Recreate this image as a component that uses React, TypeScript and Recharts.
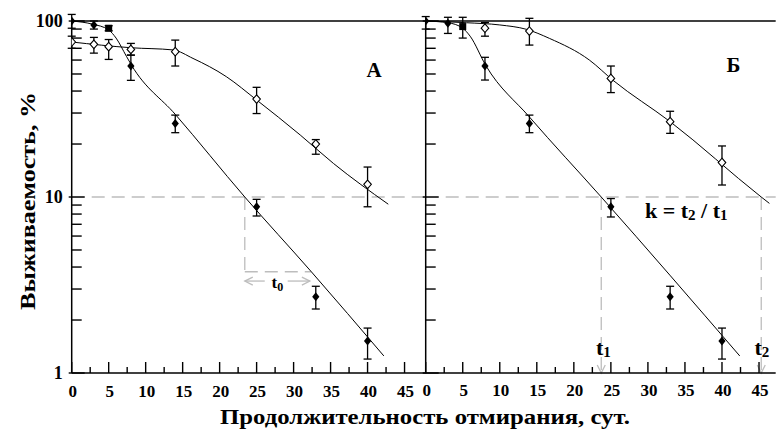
import React from 'react';
import { ComposedChart, Scatter, Line, XAxis, YAxis, ErrorBar, ReferenceLine } from 'recharts';

// ---------- data ----------
const xTicks = [0, 2.5, 5, 7.5, 10, 12.5, 15, 17.5, 20, 22.5, 25, 27.5, 30, 32.5, 35, 37.5, 40, 42.5, 45];
const xLabelTicks = [0, 5, 10, 15, 20, 25, 30, 35, 40, 45];
const yTicks = [1, 2, 3, 4, 5, 6, 7, 8, 9, 10, 20, 30, 40, 50, 60, 70, 80, 90, 100];
const yLabelTicks = [1, 10, 100];

const filledA = [
  { x: 0, y: 100, err: [9, 9] },
  { x: 3, y: 95, err: [5, 5] },
  { x: 5, y: 91, err: [3, 3] },
  { x: 8, y: 55.5, err: [9.5, 8.5] },
  { x: 14, y: 26.2, err: [3, 3] },
  { x: 25, y: 8.8, err: [1, 0.9] },
  { x: 33, y: 2.71, err: [0.4, 0.4] },
  { x: 40, y: 1.52, err: [0.32, 0.28] },
];
const openA = [
  { x: 0, y: 76, err: [6, 6] },
  { x: 3, y: 73.7, err: [8, 7] },
  { x: 5, y: 71.5, err: [11, 7] },
  { x: 8, y: 69, err: [5, 5.6] },
  { x: 14, y: 66.9, err: [11.4, 11] },
  { x: 25, y: 36, err: [6.2, 6] },
  { x: 33, y: 20, err: [2.5, 1.2] },
  { x: 40, y: 11.8, err: [3, 3] },
];
const filledB = [
  { x: 0, y: 100, err: [10, 6] },
  { x: 3, y: 97, err: [12, 8] },
  { x: 5, y: 93, err: [13, 12] },
  { x: 8, y: 55.5, err: [9.3, 6.7] },
  { x: 14, y: 26.2, err: [3, 3] },
  { x: 25, y: 8.8, err: [1.1, 1] },
  { x: 33, y: 2.71, err: [0.4, 0.4] },
  { x: 40, y: 1.52, err: [0.32, 0.28] },
];
const openB = [
  { x: 8, y: 91, err: [9, 7] },
  { x: 14, y: 87.7, err: [14.7, 15.9] },
  { x: 25, y: 47.2, err: [8, 8.3] },
  { x: 33, y: 26.8, err: [3.8, 3.9] },
  { x: 40, y: 15.7, err: [4, 3.8] },
];

const curveFilledA = [
  { x: 0, y: 100 }, { x: 2.8, y: 96 }, { x: 5, y: 89 }, { x: 6, y: 80 }, { x: 7.4, y: 63 },
  { x: 8.1, y: 56 }, { x: 14, y: 29.5 }, { x: 23.4, y: 10 }, { x: 32.4, y: 3.76 }, { x: 42.2, y: 1.25 },
];
const curveOpenA = [
  { x: 0, y: 76 }, { x: 8, y: 70.5 }, { x: 13.7, y: 68.5 }, { x: 16.4, y: 61.3 }, { x: 20.9, y: 48.3 },
  { x: 25, y: 35.6 }, { x: 30.9, y: 22.5 }, { x: 35.4, y: 15.5 }, { x: 42.8, y: 9.1 },
];
const curveFilledB = [
  { x: 0, y: 100 }, { x: 3, y: 97.8 }, { x: 5, y: 91 }, { x: 6, y: 82 }, { x: 8.1, y: 56 },
  { x: 14, y: 28.5 }, { x: 23.7, y: 10 }, { x: 42.4, y: 1.25 },
];
const curveOpenB = [
  { x: 0, y: 100 }, { x: 5.5, y: 97.8 }, { x: 10, y: 95 }, { x: 13.6, y: 89.7 }, { x: 16.7, y: 79.7 },
  { x: 22.1, y: 60 }, { x: 25.3, y: 46 }, { x: 33, y: 26.8 }, { x: 45.3, y: 10 }, { x: 46.4, y: 9.2 },
];

// annotation values (data coordinates)
const guideLevel = 10;
const guideA = { x: 23.4, yLow: 3.76, xEnd: 32.4 };
const arrowA = { y: 3.33, left: [23.4, 26.1], right: [29.2, 32.2] };
const guideB = [23.7, 45.3];

// ---------- styles ----------
const FONT = '"Liberation Serif", "Times New Roman", serif';
const GRAY = '#bdbdbd';
const PLOT_TOP = 10;
const Y_DOMAIN: [number, number] = [1, 115.5];

const XTick = (props: any) => {
  const { x, y, payload } = props;
  const v = payload.value;
  const major = v % 5 === 0;
  return (
    <g>
      <line x1={x} x2={x} y1={y} y2={y - (major ? 11 : 6)} stroke="#000" strokeWidth={1.4} />
      {xLabelTicks.includes(v) && (
        <text x={x + 1} y={y + 23.5} textAnchor="middle" fontFamily={FONT} fontWeight="bold" fontSize={17} fill="#000">
          {v}
        </text>
      )}
    </g>
  );
};

const makeYTick = (showLabels: boolean) => (props: any) => {
  const { x, y, payload } = props;
  const v = payload.value;
  const major = yLabelTicks.includes(v);
  return (
    <g>
      <line x1={major ? x - 3 : x} x2={x + (major ? 13 : 10)} y1={y} y2={y} stroke="#000" strokeWidth={1.4} />
      {showLabels && major && (
        <text x={x - 9} y={y} dy="0.35em" textAnchor="end" fontFamily={FONT} fontWeight="bold" fontSize={18} fill="#000">
          {v}
        </text>
      )}
    </g>
  );
};
const YTickA = makeYTick(true);
const YTickB = makeYTick(false);

const SQUARE_AT = 5;
const FilledMark = (props: any) => {
  const { cx, cy, payload } = props;
  if (cx == null || cy == null) return null;
  if (payload && payload.x === SQUARE_AT) {
    return <rect x={cx - 3.5} y={cy - 3.5} width={7} height={7} fill="#000" />;
  }
  return <polygon points={`${cx},${cy - 4.5} ${cx + 3.6},${cy} ${cx},${cy + 4.5} ${cx - 3.6},${cy}`} fill="#000" />;
};
const OpenMark = (props: any) => {
  const { cx, cy } = props;
  if (cx == null || cy == null) return null;
  return (
    <polygon
      points={`${cx},${cy - 4.3} ${cx + 3.8},${cy} ${cx},${cy + 4.3} ${cx - 3.8},${cy}`}
      fill="#fff"
      stroke="#000"
      strokeWidth={1.1}
    />
  );
};

const chevron = (x: number, y: number, dx: number, dy: number, key: string) => {
  const len = 8;
  const w = 4;
  const px = -dy, py = dx;
  const bx = x - dx * len, by = y - dy * len;
  return (
    <path
      key={key}
      d={`M${bx + px * w},${by + py * w} L${x},${y} L${bx - px * w},${by - py * w}`}
      fill="none"
      stroke={GRAY}
      strokeWidth={1.3}
    />
  );
};

const arrowShape = (startHead: boolean, endHead: boolean, dashed: boolean) => (p: any) => {
  const { x1, y1, x2, y2 } = p;
  const L = Math.hypot(x2 - x1, y2 - y1) || 1;
  const dx = (x2 - x1) / L, dy = (y2 - y1) / L;
  return (
    <g>
      <line x1={x1} y1={y1} x2={x2} y2={y2} stroke={GRAY} strokeWidth={1.3} strokeDasharray={dashed ? '13 7' : undefined} />
      {startHead && chevron(x1, y1, -dx, -dy, 's')}
      {endHead && chevron(x2, y2, dx, dy, 'e')}
    </g>
  );
};

const ErrBar = () => (
  <ErrorBar dataKey="err" direction="y" width={4} stroke="#000" strokeWidth={1.3} isAnimationActive={false} />
);

const commonLine = {
  dataKey: 'y',
  type: 'monotone' as const,
  dot: false,
  activeDot: false,
  stroke: '#000',
  strokeWidth: 1,
  isAnimationActive: false,
};

const PanelAxes = (domainMax: number, yTick: any) => [
  <XAxis
    key="xa"
    type="number"
    dataKey="x"
    domain={[0, domainMax]}
    ticks={xTicks}
    interval={0}
    tickSize={0}
    tickMargin={0}
    tick={XTick}
    tickLine={false}
    axisLine={{ stroke: '#000', strokeWidth: 1.5 }}
    height={30}
    allowDataOverflow
  />,
  <YAxis
    key="ya"
    type="number"
    dataKey="y"
    scale="log"
    domain={Y_DOMAIN}
    ticks={yTicks}
    interval={0}
    tickSize={0}
    tickMargin={0}
    tick={yTick}
    tickLine={false}
    axisLine={false}
    width={71.7}
    allowDataOverflow
  />,
];

export default function App() {
  return (
    <div style={{ position: 'absolute', left: 0, top: 0, width: 776, height: 431, background: '#fff', overflow: 'hidden' }}>
      {/* Panel A */}
      <div style={{ position: 'absolute', left: 0, top: 0 }}>
        <ComposedChart width={430} height={431} margin={{ top: PLOT_TOP, right: 4, bottom: 28, left: 0 }}>
          {PanelAxes(47.9, YTickA)}
          <ReferenceLine y={guideLevel} stroke={GRAY} strokeWidth={1.3} strokeDasharray="13 7" ifOverflow="visible" />
          <ReferenceLine
            segment={[{ x: guideA.x, y: guideLevel }, { x: guideA.x, y: guideA.yLow }]}
            stroke={GRAY}
            strokeWidth={1.3}
            strokeDasharray="13 7"
            ifOverflow="visible"
          />
          <ReferenceLine
            segment={[{ x: guideA.x, y: guideA.yLow }, { x: guideA.xEnd, y: guideA.yLow }]}
            stroke={GRAY}
            strokeWidth={1.3}
            strokeDasharray="13 7"
            ifOverflow="visible"
          />
          <ReferenceLine
            segment={[{ x: arrowA.left[1], y: arrowA.y }, { x: arrowA.left[0], y: arrowA.y }]}
            shape={arrowShape(false, true, false)}
            ifOverflow="visible"
          />
          <ReferenceLine
            segment={[{ x: arrowA.right[0], y: arrowA.y }, { x: arrowA.right[1], y: arrowA.y }]}
            shape={arrowShape(false, true, false)}
            ifOverflow="visible"
          />
          <ReferenceLine y={100} stroke="#000" strokeWidth={1.5} ifOverflow="visible" />
          <ReferenceLine segment={[{ x: 0, y: 1 }, { x: 0, y: 100 }]} stroke="#000" strokeWidth={1.5} ifOverflow="visible" />
          <Line data={curveFilledA} {...commonLine} />
          <Line data={curveOpenA} {...commonLine} />
          <Scatter data={openA} dataKey="y" shape={OpenMark} isAnimationActive={false}>
            {ErrBar()}
          </Scatter>
          <Scatter data={filledA} dataKey="y" shape={FilledMark} isAnimationActive={false}>
            {ErrBar()}
          </Scatter>
        </ComposedChart>
      </div>

      {/* Panel Б */}
      <div style={{ position: 'absolute', left: 354.3, top: 0 }}>
        <ComposedChart width={421.7} height={431} margin={{ top: PLOT_TOP, right: 0, bottom: 28, left: 0 }}>
          {PanelAxes(47.25, YTickB)}
          <ReferenceLine y={guideLevel} stroke={GRAY} strokeWidth={1.3} strokeDasharray="13 7" ifOverflow="visible" />
          {guideB.map((gx) => (
            <ReferenceLine
              key={gx}
              segment={[{ x: gx, y: guideLevel }, { x: gx, y: 1 }]}
              shape={arrowShape(false, true, true)}
              ifOverflow="visible"
            />
          ))}
          <ReferenceLine y={100} stroke="#000" strokeWidth={1.5} ifOverflow="visible" />
          <ReferenceLine segment={[{ x: 0, y: 1 }, { x: 0, y: 100 }]} stroke="#000" strokeWidth={1.5} ifOverflow="visible" />
          <Line data={curveFilledB} {...commonLine} />
          <Line data={curveOpenB} {...commonLine} />
          <Scatter data={openB} dataKey="y" shape={OpenMark} isAnimationActive={false}>
            {ErrBar()}
          </Scatter>
          <Scatter data={filledB} dataKey="y" shape={FilledMark} isAnimationActive={false}>
            {ErrBar()}
          </Scatter>
        </ComposedChart>
      </div>

      {/* Text overlay */}
      <svg width={776} height={431} style={{ position: 'absolute', left: 0, top: 0, pointerEvents: 'none' }}>
        <g fontFamily={FONT} fontWeight="bold" fill="#000">
          <text transform="translate(35,201) rotate(-90)" textAnchor="middle" fontSize={20} textLength={218} lengthAdjust="spacingAndGlyphs">
            Выживаемость, %
          </text>
          <text x={425} y={423.5} textAnchor="middle" fontSize={20} textLength={410} lengthAdjust="spacingAndGlyphs">
            Продолжительность отмирания, сут.
          </text>
          <text x={374} y={77} textAnchor="middle" fontSize={21}>А</text>
          <text x={733.5} y={72} textAnchor="middle" fontSize={21}>Б</text>
          <text x={271.5} y={288} fontSize={17}>
            t<tspan fontSize={12} dy={3}>0</tspan>
          </text>
          <text x={596} y={355} fontSize={22}>
            t<tspan fontSize={15} dy={2}>1</tspan>
          </text>
          <text x={754.5} y={355} fontSize={22}>
            t<tspan fontSize={15} dy={2}>2</tspan>
          </text>
          <text x={645} y={218} fontSize={22}>
            k = t<tspan fontSize={15} dy={2}>2</tspan>
            <tspan dy={-2}> / t</tspan>
            <tspan fontSize={15} dy={2}>1</tspan>
          </text>
        </g>
      </svg>
    </div>
  );
}
